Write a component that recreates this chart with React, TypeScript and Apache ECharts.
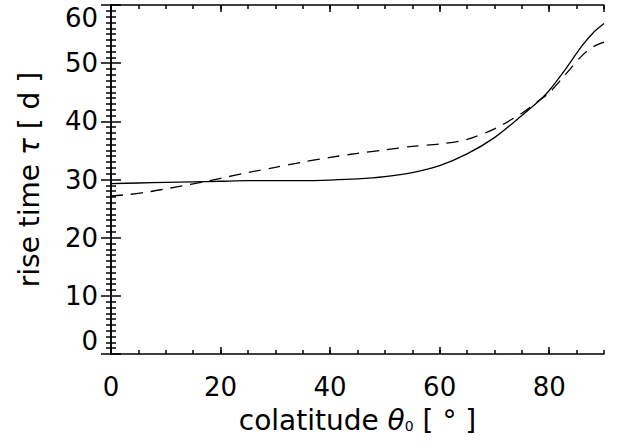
import React, { useEffect, useRef } from "react";
import * as echarts from "echarts";

const solidX = [0, 5, 10, 15, 20, 25, 30, 35, 40, 45, 50, 55, 60, 65, 70, 75, 78, 80, 83, 86, 88, 90];
const solidY = [29.3, 29.4, 29.5, 29.6, 29.7, 29.8, 29.8, 29.8, 29.9, 30.1, 30.5, 31.2, 32.4, 34.4, 37.2, 41.0, 43.4, 45.3, 49.0, 53.0, 55.2, 56.8];

const dashX = [0, 3, 7, 10, 13, 17, 20, 25, 30, 35, 40, 45, 50, 55, 60, 65, 70, 75, 78, 80, 83, 86, 88, 90];
const dashY = [27.2, 27.4, 27.9, 28.4, 28.9, 29.6, 30.2, 31.2, 32.1, 33.0, 33.8, 34.5, 35.1, 35.7, 36.1, 36.9, 38.7, 41.4, 43.5, 44.9, 48.1, 51.3, 52.8, 53.6];

const xTickLabels = ["0", "20", "40", "60", "80"];
const yTickLabels = ["0", "10", "20", "30", "40", "50", "60"];

const FONT = "DejaVu Sans";

export default function App() {
  const ref = useRef<HTMLDivElement>(null);
  useEffect(() => {
    if (!ref.current) return;
    const chart = echarts.init(ref.current, null, { renderer: "svg" });
    const lineStyle = { color: "#000", width: 1.5 };
    const xBase = { type: "value", min: 0, max: 90, splitLine: { show: false } };
    const yBase = { type: "value", min: 0, max: 60, interval: 10, splitLine: { show: false } };
    chart.setOption({
      animation: false,
      backgroundColor: "#fff",
      grid: { left: 111, right: 13, top: 5, bottom: 94, containLabel: false },
      xAxis: [
        {
          ...xBase,
          position: "bottom",
          interval: 20,
          axisLine: { show: true, lineStyle },
          axisTick: { show: true, inside: true, length: 7, lineStyle },
          axisLabel: {
            show: true,
            showMaxLabel: false,
            margin: 20,
            color: "#000",
            fontFamily: FONT,
            fontSize: 26,
            formatter: (v: number) => (xTickLabels.includes(String(v)) ? String(v) : ""),
          },
          name: "colatitude {it|θ}{sub|0} [ ° ]",
          nameLocation: "middle",
          nameGap: 52,
          nameTextStyle: {
            color: "#000",
            fontFamily: FONT,
            fontSize: 28,
            rich: {
              it: { fontStyle: "italic", fontFamily: FONT, fontSize: 28, color: "#000" },
              sub: { fontFamily: FONT, fontSize: 14, color: "#000", padding: [12, 0, 0, 0] },
            },
          },
        },
        {
          ...xBase,
          position: "bottom",
          interval: 5,
          axisLine: { show: false },
          axisTick: { show: true, inside: true, length: 4, lineStyle },
          axisLabel: { show: false },
        },
        {
          ...xBase,
          position: "top",
          interval: 20,
          axisLine: { show: true, lineStyle },
          axisTick: { show: true, inside: true, length: 7, lineStyle },
          axisLabel: { show: false },
        },
        {
          ...xBase,
          position: "top",
          interval: 5,
          axisLine: { show: false },
          axisTick: { show: true, inside: true, length: 4, lineStyle },
          axisLabel: { show: false },
        },
      ],
      yAxis: [
        {
          ...yBase,
          position: "left",
          axisLine: { show: true, lineStyle },
          axisTick: { show: true, inside: true, length: 10, lineStyle },
          minorTick: { show: true, splitNumber: 10, length: 5, lineStyle },
          axisLabel: {
            show: true,
            margin: 13,
            color: "#000",
            fontFamily: FONT,
            fontSize: 26,
            verticalAlignMinLabel: "bottom",
            verticalAlignMaxLabel: "top",
            formatter: (v: number) => (yTickLabels.includes(String(v)) ? String(v) : ""),
          },
          name: "rise time {it|τ} [ d ]",
          nameLocation: "middle",
          nameGap: 68,
          nameRotate: 90,
          nameTextStyle: {
            color: "#000",
            fontFamily: FONT,
            fontSize: 28,
            rich: {
              it: { fontStyle: "italic", fontFamily: FONT, fontSize: 28, color: "#000" },
            },
          },
        },
        {
          ...yBase,
          position: "right",
          axisLine: { show: true, lineStyle },
          axisTick: { show: true, inside: true, length: 10, lineStyle },
          minorTick: { show: true, splitNumber: 10, length: 5, lineStyle },
          axisLabel: { show: false },
        },
      ],
      series: [
        {
          type: "line",
          xAxisIndex: 0,
          yAxisIndex: 0,
          data: solidX.map((x, i) => [x, solidY[i]]),
          smooth: 0.3,
          symbol: "none",
          lineStyle: { color: "#000", width: 1.3, type: "solid" },
        },
        {
          type: "line",
          xAxisIndex: 0,
          yAxisIndex: 0,
          data: dashX.map((x, i) => [x, dashY[i]]),
          smooth: 0.3,
          symbol: "none",
          lineStyle: { color: "#000", width: 1.3, type: [12, 8] },
        },
      ],
    });
    return () => chart.dispose();
  }, []);
  return (
    <div
      ref={ref}
      style={{ position: "absolute", left: 0, top: 0, width: 617, height: 448 }}
    />
  );
}
